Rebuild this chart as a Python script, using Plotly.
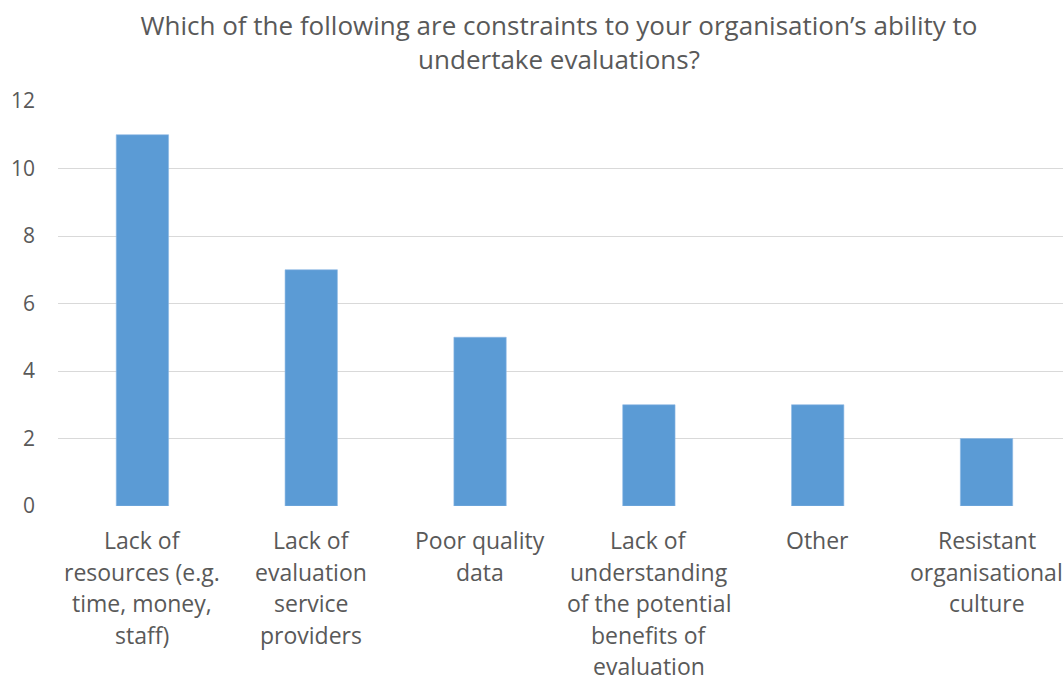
import plotly.graph_objects as go

# Survey responses: constraints on undertaking evaluations
categories = [
    "Lack of\nresources (e.g.\ntime, money,\nstaff)",
    "Lack of\nevaluation\nservice\nproviders",
    "Poor quality\ndata",
    "Lack of\nunderstanding\nof the potential\nbenefits of\nevaluation",
    "Other",
    "Resistant\norganisational\nculture",
]
counts = [11, 7, 5, 3, 3, 2]
y_ticks = [0, 2, 4, 6, 8, 10, 12]

FONT = "Open Sans"
GREY = "#595959"
BAR = "#5B9BD5"

x_idx = list(range(len(categories)))

fig = go.Figure(
    go.Bar(
        x=x_idx,
        y=counts,
        width=0.31,
        marker=dict(color=BAR, line=dict(color="#8DB9E4", width=0.6)),
        hoverinfo="skip",
    )
)

# Category labels, one annotation per text line for Excel-like line spacing
line_gap = 31.5
for i, label in enumerate(categories):
    for j, line in enumerate(label.split("\n")):
        fig.add_annotation(
            x=i, xref="x", y=0, yref="paper",
            yanchor="middle", yshift=-34 - j * line_gap,
            text=line, showarrow=False,
            font=dict(family=FONT, size=23, color=GREY),
        )

fig.update_layout(
    width=1063, height=682,
    margin=dict(l=58, r=0, t=101, b=176),
    paper_bgcolor="white", plot_bgcolor="white",
    showlegend=False,
    title=dict(
        text="Which of the following are constraints to your organisation’s ability to<br>undertake evaluations?",
        x=559 / 1063, xref="container", xanchor="center",
        y=1 - 35 / 682, yref="container", yanchor="middle",
        font=dict(family=FONT, size=26, color=GREY),
    ),
    xaxis=dict(
        range=[-0.5, 5.453],
        showticklabels=False, showgrid=False, zeroline=False,
        showline=False, ticks="",
    ),
    yaxis=dict(
        range=[0, 12], tickvals=y_ticks,
        showgrid=True, gridcolor="#D9D9D9", gridwidth=1.3,
        zeroline=False, showline=False, ticks="",
        tickfont=dict(family=FONT, size=21, color=GREY),
        ticklabelstandoff=22,
    ),
)

fig.write_html("out.html")
